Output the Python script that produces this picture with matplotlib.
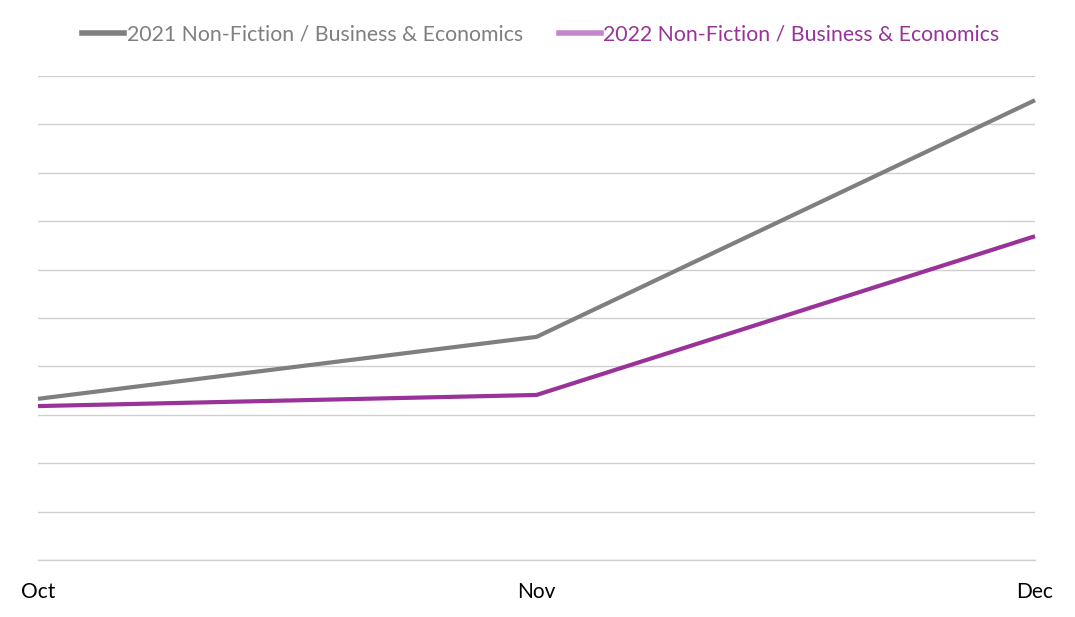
import matplotlib
matplotlib.use("Agg")
import matplotlib.pyplot as plt
from matplotlib.lines import Line2D

# data (no y labels shown, units are gridline steps)
MONTHS = ['Oct', 'Nov', 'Dec']
SALES_2021 = [3.33, 4.61, 9.50]
SALES_2022 = [3.18, 3.41, 6.69]

GREY = '#7f7f7f'
PURPLE = '#993399'
PURPLE_LIGHT = '#c585cc'

plt.rcParams['font.family'] = ['Lato', 'DejaVu Sans']

fig = plt.figure(figsize=(10.75, 6.17), dpi=100)
ax = fig.add_axes([38 / 1075, 57 / 617, 997 / 1075, 484 / 617])

x = range(len(MONTHS))
ax.plot(x, SALES_2021, color=GREY, lw=3, solid_capstyle='butt', zorder=3, clip_on=False)
ax.plot(x, SALES_2022, color=PURPLE, lw=3, solid_capstyle='butt', zorder=4, clip_on=False)

ax.set_xlim(0, len(MONTHS) - 1)
ax.set_ylim(0, 10)
ax.set_yticks(range(0, 11))
ax.set_yticklabels([])
ax.grid(axis='y', color='#d0d0d0', lw=1)
ax.tick_params(axis='y', length=0)
ax.set_xticks(list(x))
ax.set_xticklabels(MONTHS, fontsize=15)
ax.tick_params(axis='x', length=0, pad=16)
for s in ax.spines.values():
    s.set_visible(False)
ax.spines['bottom'].set_visible(True)
ax.spines['bottom'].set_color('#d0d0d0')
ax.spines['bottom'].set_linewidth(1)

handles = [Line2D([], [], color=GREY, lw=4),
           Line2D([], [], color=PURPLE_LIGHT, lw=4)]
leg = fig.legend(handles, ['2021 Non-Fiction / Business & Economics',
                           '2022 Non-Fiction / Business & Economics'],
                 loc='upper center', bbox_to_anchor=(0.503, 0.992), ncol=2,
                 frameon=False, fontsize=15.3, handlelength=2.0, handletextpad=0.1,
                 columnspacing=1.7)
leg.get_texts()[0].set_color(GREY)
leg.get_texts()[1].set_color(PURPLE)

fig.savefig('out.png', dpi=100)
